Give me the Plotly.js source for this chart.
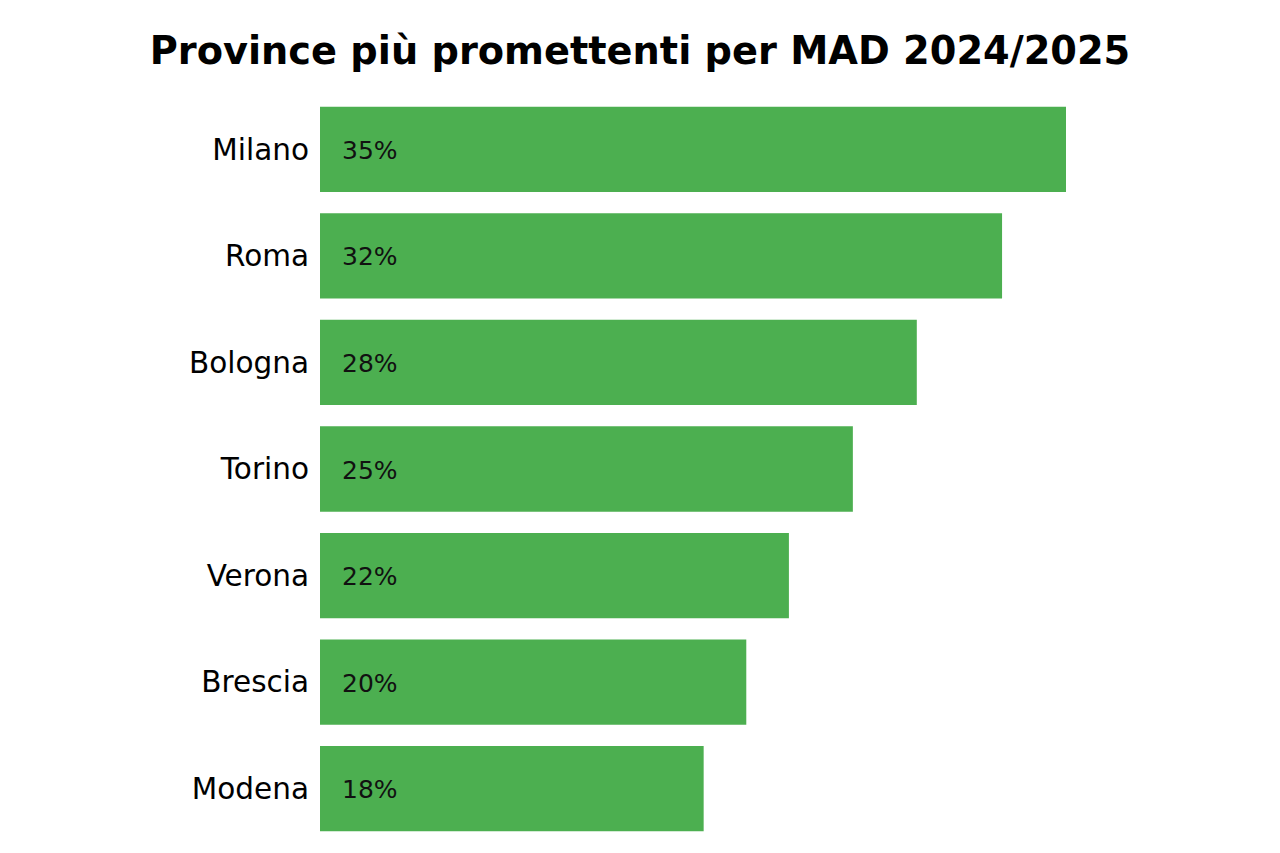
<!DOCTYPE html>
<html>
<head>
<meta charset="utf-8">
<script src="https://cdn.plot.ly/plotly-3.0.1.min.js"></script>
<style>
html,body{margin:0;padding:0;background:#fff;}
#chart{width:1280px;height:853px;}
</style>
</head>
<body>
<div id="chart"></div>
<script>
const provinces = ["Milano", "Roma", "Bologna", "Torino", "Verona", "Brescia", "Modena"];
const percentages = [35, 32, 28, 25, 22, 20, 18];
const valueLabels = percentages.map(v => v + "%");
const chartTitle = "Province più promettenti per MAD 2024/2025";

const trace = {
  type: "bar",
  orientation: "h",
  y: provinces,
  x: percentages,
  marker: { color: "#4CAF50", line: { width: 0 } },
  hoverinfo: "none"
};

const annotations = provinces.map((p, i) => ({
  x: 0, y: p, xref: "x", yref: "y",
  text: valueLabels[i],
  showarrow: false,
  xanchor: "left", yanchor: "middle",
  xshift: 20, yshift: -1,
  font: { family: "DejaVu Sans", size: 25, color: "#111111" }
}));

const layout = {
  width: 1280, height: 853,
  paper_bgcolor: "#ffffff", plot_bgcolor: "#ffffff",
  margin: { l: 320, r: 214, t: 96, b: 11 },
  showlegend: false,
  bargap: 0.2,
  title: {
    text: "<b>" + chartTitle + "</b>",
    x: 0.5, xanchor: "center",
    y: 1 - 51 / 853, yanchor: "middle", yref: "container",
    font: { family: "DejaVu Sans", size: 38.3, color: "#000000" }
  },
  xaxis: {
    range: [0, 35], visible: false, showgrid: false, zeroline: false, fixedrange: true
  },
  yaxis: {
    type: "category",
    categoryorder: "array", categoryarray: provinces,
    range: [6.5, -0.5],
    showgrid: false, zeroline: false, showline: false,
    ticks: "", ticklabelstandoff: 10,
    tickfont: { family: "DejaVu Sans", size: 29.5, color: "#000000" },
    fixedrange: true
  },
  annotations: annotations
};

Plotly.newPlot("chart", [trace], layout, { displayModeBar: false, staticPlot: true });
</script>
</body>
</html>
